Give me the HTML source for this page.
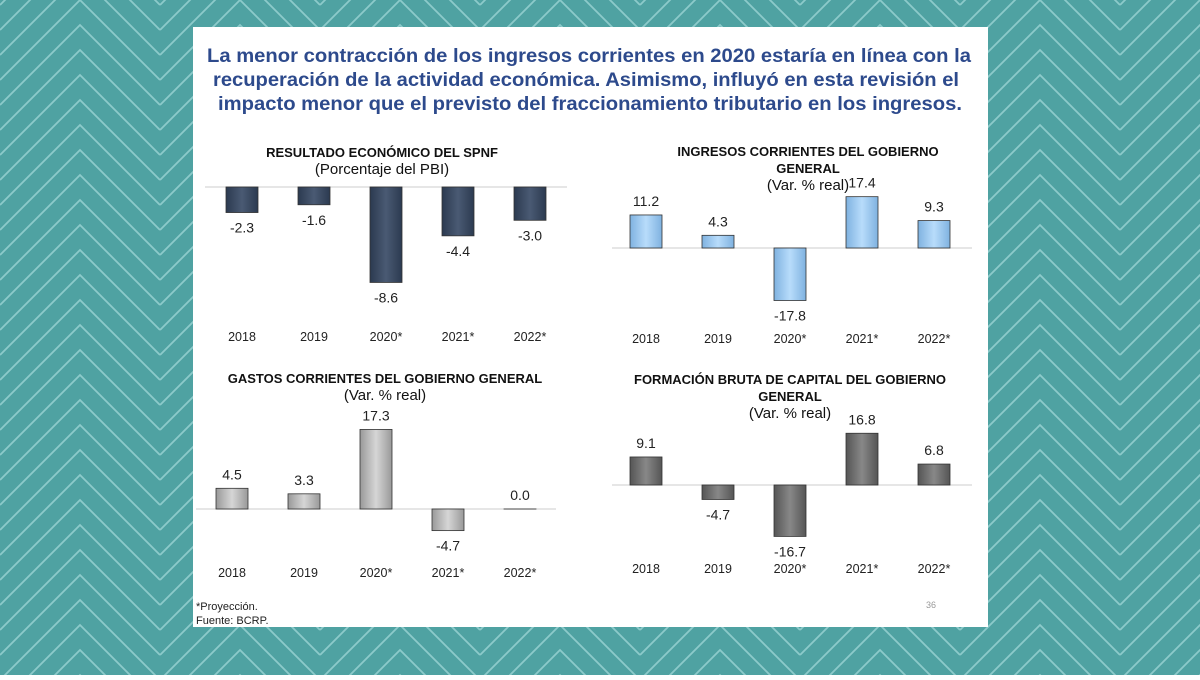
<!DOCTYPE html>
<html><head><meta charset="utf-8"><style>
body{margin:0;width:1200px;height:675px;overflow:hidden;font-family:"Liberation Sans",sans-serif}
</style></head><body>
<svg width="1200" height="675" xmlns="http://www.w3.org/2000/svg">
<defs>
<pattern id="chev" width="160" height="25" patternUnits="userSpaceOnUse">
<rect width="160" height="25" fill="#4fa2a2"/>
<path d="M0,-20 L80,-100 L160,-20 M0,5 L80,-75 L160,5 M0,30 L80,-50 L160,30 M0,55 L80,-25 L160,55 M0,80 L80,0 L160,80 M0,105 L80,25 L160,105" stroke="#8ccaca" stroke-width="1.8" fill="none"/>
</pattern>
<linearGradient id="g1" x1="0" x2="1"><stop offset="0" stop-color="#2b3a50"/><stop offset=".5" stop-color="#4a5a73"/><stop offset="1" stop-color="#2b3a50"/></linearGradient>
<linearGradient id="g2" x1="0" x2="1"><stop offset="0" stop-color="#7fb2e0"/><stop offset=".5" stop-color="#b8dcfb"/><stop offset="1" stop-color="#7fb2e0"/></linearGradient>
<linearGradient id="g3" x1="0" x2="1"><stop offset="0" stop-color="#999"/><stop offset=".5" stop-color="#d6d6d6"/><stop offset="1" stop-color="#999"/></linearGradient>
<linearGradient id="g4" x1="0" x2="1"><stop offset="0" stop-color="#555"/><stop offset=".5" stop-color="#888"/><stop offset="1" stop-color="#555"/></linearGradient>
</defs>
<rect width="1200" height="675" fill="url(#chev)"/>
<rect x="193" y="27" width="795" height="600" fill="#fff"/>
<g font-weight="bold" font-size="19" fill="#2d4a8c" text-anchor="middle">
<text x="589" y="62" textLength="764" lengthAdjust="spacingAndGlyphs">La menor contracción de los ingresos corrientes en 2020 estaría en línea con la</text>
<text x="586" y="86" textLength="746" lengthAdjust="spacingAndGlyphs">recuperación de la actividad económica. Asimismo, influyó en esta revisión el</text>
<text x="590" y="110" textLength="744" lengthAdjust="spacingAndGlyphs">impacto menor que el previsto del fraccionamiento tributario en los ingresos.</text>
</g>
<g id="charts"></g>
<text x="196" y="610" font-size="11" fill="#222">*Proyección.</text>
<text x="196" y="624" font-size="11" fill="#222">Fuente: BCRP.</text>
<text x="926" y="608" font-size="9" fill="#999">36</text>
</svg>
<script>
const years = ["2018","2019","2020*","2021*","2022*"];
const resultadoValues = [-2.3,-1.6,-8.6,-4.4,-3.0];
const ingresosValues = [11.2,4.3,-17.8,17.4,9.3];
const gastosValues = [4.5,3.3,17.3,-4.7,0.0];
const formacionValues = [9.1,-4.7,-16.7,16.8,6.8];
const NS="http://www.w3.org/2000/svg";
const root=document.getElementById('charts');
function el(tag,attrs,parent){const e=document.createElementNS(NS,tag);for(const k in attrs)e.setAttribute(k,attrs[k]);parent.appendChild(e);return e;}
function chart(cfg){
  const g=el('g',{},root);
  
  
  cfg.titles.forEach((t,i)=>{
    const tx=el('text',{x:cfg.tx,y:cfg.ty+i*17,'text-anchor':'middle','font-size':t.b?13:15,'font-weight':t.b?'bold':'normal',fill:'#111'},g);
    tx.textContent=t.s;
    
    
  });
  const y=v=>cfg.zero-v*cfg.scale;
  const ax=el('line',{x1:cfg.x0,x2:cfg.x1,y1:cfg.zero,y2:cfg.zero,stroke:'#ddd','stroke-width':1.5},g);
  
  
  cfg.values.forEach((v,i)=>{
    const cx=cfg.c0+i*cfg.step;
    const top=Math.min(y(v),cfg.zero), h=Math.abs(y(v)-cfg.zero);
    const r=el('rect',{x:cx-16,y:top,width:32,height:Math.max(h,0.01),fill:cfg.fill,stroke:'#333','stroke-width':0.8},g);
    
    
    const ly=v>=0?y(v)-9:y(v)+20;
    const lt=el('text',{x:cx,y:ly,'text-anchor':'middle','font-size':14,fill:'#222'},g);
    lt.textContent=v.toFixed(1);
    
    
    const yt=el('text',{x:cx,y:cfg.yl,'text-anchor':'middle','font-size':12.5,fill:'#222'},g);
    yt.textContent=years[i];
    
    
  });
}
chart({name:'resultado-chart',values:resultadoValues,zero:187,scale:11.1,c0:242,step:72,x0:205,x1:567,yl:341,fill:'url(#g1)',tx:382,ty:157,titles:[{s:'RESULTADO ECONÓMICO DEL SPNF',b:1},{s:'(Porcentaje del PBI)'}]});
chart({name:'ingresos-chart',values:ingresosValues,zero:248,scale:2.95,c0:646,step:72,x0:612,x1:972,yl:343,fill:'url(#g2)',tx:808,ty:156,titles:[{s:'INGRESOS CORRIENTES DEL GOBIERNO',b:1},{s:'GENERAL',b:1},{s:'(Var. % real)'}]});
chart({name:'gastos-chart',values:gastosValues,zero:509,scale:4.6,c0:232,step:72,x0:196,x1:556,yl:577,fill:'url(#g3)',tx:385,ty:383,titles:[{s:'GASTOS CORRIENTES DEL GOBIERNO GENERAL',b:1},{s:'(Var. % real)'}]});
chart({name:'formacion-chart',values:formacionValues,zero:485,scale:3.08,c0:646,step:72,x0:612,x1:972,yl:573,fill:'url(#g4)',tx:790,ty:384,titles:[{s:'FORMACIÓN BRUTA DE CAPITAL DEL GOBIERNO',b:1},{s:'GENERAL',b:1},{s:'(Var. % real)'}]});
</script>
</body></html>
